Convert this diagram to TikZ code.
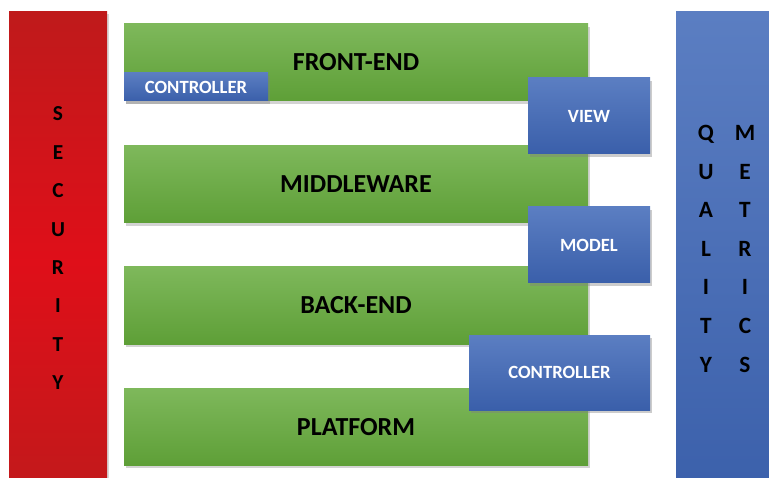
\documentclass[tikz,border=0pt]{standalone}
\usepackage{fontspec}
\setmainfont{Carlito}
\definecolor{greentop}{HTML}{7EB85B}
\definecolor{greenbot}{HTML}{5E9F37}
\definecolor{bluetop}{HTML}{5B7EC2}
\definecolor{bluebot}{HTML}{3A5FAA}
\definecolor{redtop}{HTML}{BF1A1B}
\definecolor{redmid}{HTML}{DF0F19}
\usetikzlibrary{shadows}
\tikzset{
  layer/.style={top color=greentop,bottom color=greenbot,minimum width=348pt,minimum height=57.75pt,
    font=\fontsize{19.5}{22}\selectfont\bfseries,drop shadow={shadow xshift=1.5pt,shadow yshift=-2pt,opacity=0.35}},
  part/.style={top color=bluetop,bottom color=bluebot,text=white,inner sep=0pt,
    font=\fontsize{14}{16}\selectfont\bfseries,drop shadow={shadow xshift=1.5pt,shadow yshift=-2pt,opacity=0.4}},
  pillar/.style={inner sep=0pt,drop shadow={shadow xshift=1.5pt,shadow yshift=-1.5pt,opacity=0.3}},
  letter/.style={font=\fontsize{16}{18}\selectfont\bfseries,text depth=0pt,inner sep=0pt},
  bigletter/.style={font=\fontsize{17.5}{20}\selectfont\bfseries,text depth=0pt,inner sep=0pt}
}
\begin{document}
\begin{tikzpicture}[x=0.75pt,y=-0.75pt]
  \useasboundingbox (0,0) rectangle (769,478);
  % side pillars
  \node[pillar,top color=redtop,bottom color=redtop,middle color=redmid,minimum width=73.5pt,minimum height=375pt] (security) at (58,262) {};
  \node[pillar,top color=bluetop,bottom color=bluebot,minimum width=75pt,minimum height=375pt] (quality) at (726,262) {};
  \foreach \ch [count=\i from 0] in {S,E,C,U,R,I,T,Y}
    \node[letter] (sec\i) at (58,{114+38.4*\i}) {\ch};
  \foreach \ch [count=\i from 0] in {Q,U,A,L,I,T,Y}
    \node[bigletter] (qual\i) at (706,{133+38.6*\i}) {\ch};
  \foreach \ch [count=\i from 0] in {M,E,T,R,I,C,S}
    \node[bigletter] (met\i) at (745,{133+38.6*\i}) {\ch};
  % layers
  \node[layer] (front) at (356,62.5) {FRONT-END};
  \node[layer] (middle) at (356,184.5) {MIDDLEWARE};
  \node[layer] (back) at (356,305.5) {BACK-END};
  \node[layer] (platform) at (356,427) {PLATFORM};
  % parts
  \node[part,minimum width=108pt,minimum height=21pt] (ctrlsmall) at (196,87) {CONTROLLER};
  \node[part,minimum width=91.5pt,minimum height=57pt] (view) at (589,116) {VIEW};
  \node[part,minimum width=91.5pt,minimum height=57pt] (model) at (589,245) {MODEL};
  \node[part,minimum width=135.75pt,minimum height=56.25pt] (ctrlbig) at (559.5,372.5) {CONTROLLER};
\end{tikzpicture}
\end{document}
